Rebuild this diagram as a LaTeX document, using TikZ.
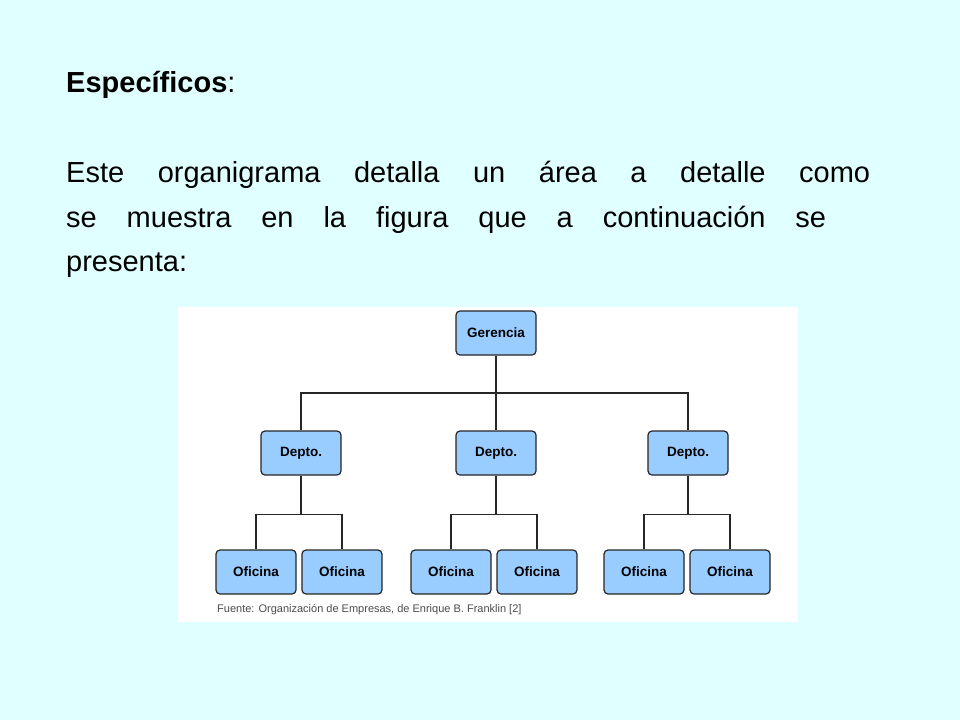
\documentclass[tikz,border=0pt]{standalone}
\usepackage{fontspec}
\setmainfont{Liberation Sans}
\definecolor{bgc}{RGB}{224,255,255}
\definecolor{boxc}{RGB}{153,204,255}
\begin{document}
\begin{tikzpicture}[x=1pt,y=-1pt,
  box/.style={draw=black!85,line width=1.2pt,fill=boxc,rounded corners=4pt,minimum width=80pt,minimum height=44pt,font=\fontsize{13.5}{15}\selectfont\bfseries,inner sep=0pt},
  ln/.style={line width=1.2pt,black!85},
  para/.style={anchor=base west,inner sep=0pt,font=\fontsize{29}{34}\selectfont}]
\fill[bgc] (0,0) rectangle (960,720);
\useasboundingbox (0,0) rectangle (960,720);
\fill[white] (178,307) rectangle (798,622);
\node[para,font=\fontsize{29}{34}\selectfont\bfseries] (t) at (66,92) {Específicos\textmd{:}};
\node[para] (p1) at (66,182) {\makebox[804pt][s]{Este organigrama detalla un área a detalle como}};
\node[para] (p2) at (66,227) {\makebox[760pt][s]{se muestra en la figura que a continuación se}};
\node[para] (p3) at (66,271) {presenta:};
\node[box] (g) at (496,333) {Gerencia};
\node[box] (d1) at (301,453) {Depto.};
\node[box] (d2) at (496,453) {Depto.};
\node[box] (d3) at (688,453) {Depto.};
\foreach \i/\x in {1/256,2/342,3/451,4/537,5/644,6/730}{
  \node[box] (o\i) at (\x,572) {Oficina};}
\draw[ln] (g.south) -- (d2.north);
\draw[ln] (d1.north) |- (496,393) -| (d3.north);
\foreach \d/\a/\b in {d1/o1/o2,d2/o3/o4,d3/o5/o6}{
  \draw[ln] (\d.south) -- ++(0,39) coordinate (c\d);
  \draw[ln] (\a.north) |- (c\d) -| (\b.north);}
\node[anchor=base west,inner sep=0pt,font=\fontsize{11}{13}\selectfont,text=black!70] (src) at (217,612) {Fuente: Organización de Empresas, de Enrique B. Franklin [2]};
\end{tikzpicture}
\end{document}
